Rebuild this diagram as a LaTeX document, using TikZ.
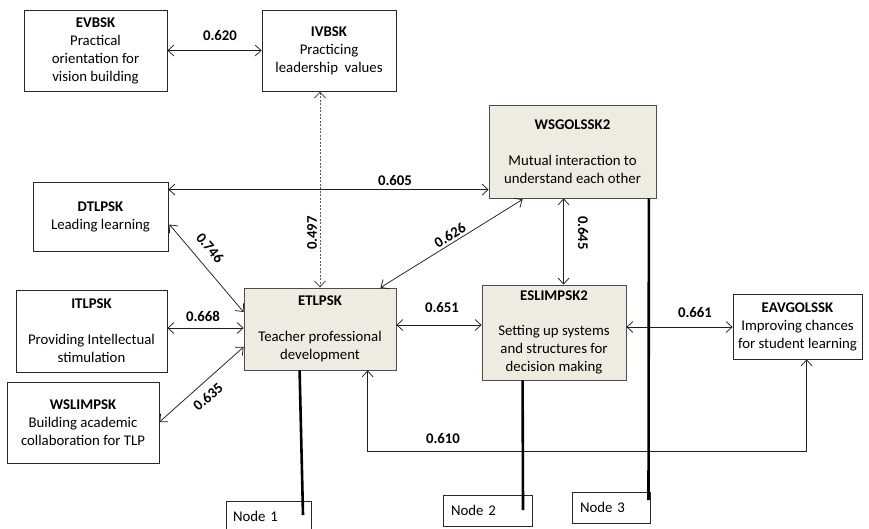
\documentclass[tikz,border=0pt]{standalone}
\usepackage{fontspec}
\setmainfont{Carlito}
\usetikzlibrary{arrows.meta,calc}
\definecolor{tanc}{RGB}{238,236,225}
\definecolor{boxc}{RGB}{40,40,40}
\definecolor{linec}{RGB}{30,30,30}
\tikzset{
  box/.style={draw=boxc, line width=0.8pt, fill=white, align=center, inner sep=0pt,
    font=\fontsize{14.8}{18}\selectfont},
  tanbox/.style={box, fill=tanc, draw=black!70},
  nodebox/.style={draw=boxc, line width=0.8pt, fill=white, inner sep=0pt, align=left,
    font=\fontsize{14.8}{18}\selectfont},
  lab/.style={font=\bfseries\fontsize{14.8}{17}\selectfont, inner sep=0pt},
  link/.style={draw=linec, line width=0.75pt,
    {Straight Barb[length=6pt,width=11pt]}-{Straight Barb[length=6pt,width=11pt]}},
  dotlink/.style={link, draw=black!65, line width=0.9pt, dash pattern=on 2pt off 1.5pt},
  bar/.style={line width=2.6pt, black}
}
\begin{document}
\begin{tikzpicture}[x=1pt,y=-1pt]
\useasboundingbox (0,0) rectangle (869,528);

% boxes
\node[box, minimum width=143pt, minimum height=81pt] (ev) at (95.5,50.5)
  {\textbf{EVBSK}\\Practical\\orientation for\\vision building};
\node[box, minimum width=134pt, minimum height=81pt] (iv) at (329,50.5)
  {\textbf{IVBSK}\\Practicing\\leadership\ \ values};
\node[box, minimum width=135pt, minimum height=69pt] (dt) at (100.5,216.5)
  {\textbf{DTLPSK}\\Leading learning};
\node[box, minimum width=151pt, minimum height=82pt] (it) at (91.5,331)
  {\textbf{ITLPSK}\\[18pt]Providing Intellectual\\stimulation};
\node[box, minimum width=152pt, minimum height=81pt] (wl) at (83,422.5)
  {\textbf{WSLIMPSK}\\Building academic\\collaboration for TLP};
\node[tanbox, minimum width=152pt, minimum height=82pt] (et) at (320,329)
  {\textbf{ETLPSK}\\[18pt]Teacher professional\\development};
\node[tanbox, minimum width=167pt, minimum height=93pt] (ws) at (572.5,151.5)
  {\textbf{WSGOLSSK2}\\[18pt]Mutual interaction to\\understand each other};
\node[tanbox, minimum width=144pt, minimum height=95pt] (es) at (554,332.5)
  {\textbf{ESLIMPSK2}\\[17pt]Setting up systems\\and structures for\\decision making};
\node[box, minimum width=129pt, minimum height=65pt] (ea) at (797.5,326.5)
  {\textbf{EAVGOLSSK}\\Improving chances\\for student learning};

% Node boxes
\node[nodebox, minimum width=85pt, minimum height=30pt, text width=71pt, inner xsep=7pt] (n1) at (268.5,516) {Node 1};
\node[nodebox, minimum width=87pt, minimum height=31pt, text width=73pt, inner xsep=8pt] (n2) at (487.5,510.5) {Node 2};
\node[nodebox, minimum width=76pt, minimum height=31pt, text width=62pt, inner xsep=8pt] (n3) at (611,507.5) {Node 3};

% connectors
\draw[link] (ev.east) -- (iv.west);
\node[lab] (l620) at (220,35) {0.620};

\draw[dotlink] (et.north |- iv.south) -- (et.north);
\node[lab, rotate=90] (l497) at (312,233) {0.497};

\coordinate (a605) at ($(dt.north east)+(0,8)$);
\draw[link] (a605) -- (a605 -| ws.west);
\node[lab] (l605) at (395,180) {0.605};

\draw[link] ($(dt.east)+(1,8)$) -- ($(et.west)+(0,-17)$);
\node[lab, rotate=-50] (l746) at (210,248) {0.746};

\coordinate (a668) at ($(it.east)+(0,-3)$);
\draw[link] (a668) -- (a668 -| et.west);
\node[lab] (l668) at (203,316) {0.668};

\draw[link] ($(wl.east)+(0,-0.5)$) -- ($(et.west)+(0,18)$);
\node[lab, rotate=41] (l635) at (208,397) {0.635};

\draw[link] ($(et.north east)+(-16,0)$) -- ($(ws.south west)+(34,1)$);
\node[lab, rotate=31.6] (l626) at (450,235) {0.626};

\coordinate (a645) at ($(ws.south west)+(75,0)$);
\draw[link] (a645) -- (a645 |- es.north);
\node[lab, rotate=-90] (l645) at (583,233) {0.645};

\coordinate (a651) at ($(et.east)+(0,-4)$);
\draw[link] (a651) -- (a651 -| es.west);
\node[lab] (l651) at (442,307) {0.651};

\coordinate (a661) at ($(es.east)+(0,-5.5)$);
\draw[link] (a661) -- (a661 -| ea.west);
\node[lab] (l661) at (695,312) {0.661};

\draw[link] ($(et.south west)+(124,0)$) -- ++(0,81) -| ($(ea.south west)+(74,0)$);
\node[lab] (l610) at (443,438) {0.610};

% thick bars to Node boxes
\coordinate (b1) at (303,515);
\coordinate (b2) at (523,510);
\coordinate (b3) at (648.5,500);
\draw[bar] ($(et.south west)+(56,0)$) -- (b1);
\draw[bar] ($(es.south west)+(41,0)$) -- (b2);
\draw[bar] ($(ws.south east)+(-7.5,0)$) -- (b3);
\end{tikzpicture}
\end{document}
